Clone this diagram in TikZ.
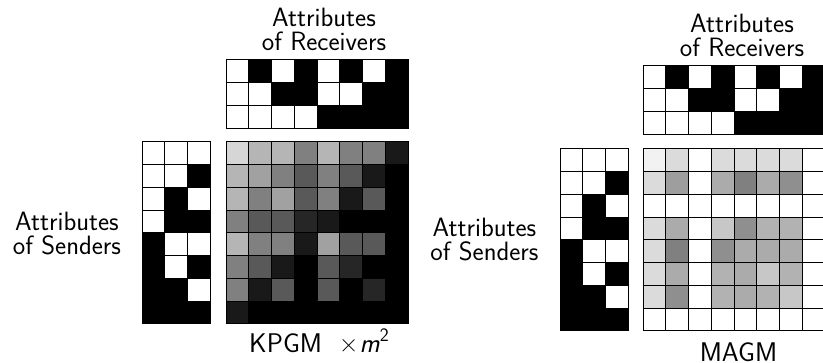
\documentclass[tikz,border=0pt]{standalone}
\usepackage{fontspec}
\usepackage{tikz}
\tikzset{
  cellbox/.style={draw=black, line width=1pt},
  lbl/.style={font=\fontsize{26.5}{24}\selectfont\sffamily, inner sep=0pt, anchor=base, align=center},
  biglbl/.style={font=\fontsize{27}{30}\selectfont\sffamily, inner sep=0pt, anchor=base},
}
\newcommand\cellmatrix[3]{%
  \foreach \rowvals [count=\ri] in {#3} {
    \foreach \v [count=\ci] in \rowvals {
      \filldraw[cellbox, fill=white!\v!black] ({#1+(\ci-1)*22.75},{#2+(\ri-1)*22.75}) rectangle ++(22.75,22.75);
    }
  }
}
\begin{document}
\begin{tikzpicture}[x=1pt,y=-1pt]
\useasboundingbox (0,0) rectangle (823,363);
% ---------- left: KPGM ----------
\cellmatrix{226}{60}{{100,0,100,0,100,0,100,0},{100,100,0,0,100,100,0,0},{100,100,100,100,0,0,0,0}}
\cellmatrix{142}{142}{{100,100,100},{100,100,0},{100,0,100},{100,0,0},{0,100,100},{0,100,0},{0,0,100},{0,0,0}}
\cellmatrix{226}{142}{%
{84,71,71,50,71,50,50,10},
{71,63,50,35,50,35,10,0},
{71,50,63,35,50,10,35,0},
{50,35,35,15,10,0,0,0},
{71,50,50,10,63,35,35,0},
{50,35,10,0,35,15,0,0},
{50,10,35,0,35,0,15,0},
{10,0,0,0,0,0,0,0}}
\node[lbl] (recvL) at (324,50.5) {Attributes\\of Receivers};
\node[lbl] (sendL) at (67,254.5) {Attributes\\of Senders};
\node[biglbl] (kpgm) at (319,353) {KPGM\ \ ×\kern1pt\textit{m}\raisebox{0.42em}{\fontsize{19}{20}\selectfont 2}};
% ---------- right: MAGM ----------
\cellmatrix{643}{66}{{100,0,100,0,100,0,100,0},{100,100,0,0,100,100,0,0},{100,100,100,100,0,0,0,0}}
\cellmatrix{560}{149}{{100,100,100},{100,100,0},{100,0,100},{100,0,0},{0,100,100},{0,100,0},{0,0,100},{0,0,0}}
\cellmatrix{643}{149}{%
{95,86,100,86,86,86,86,100},
{86,62,100,67,50,67,56,100},
{100,100,100,100,100,100,100,100},
{86,67,100,78,56,70,70,100},
{86,50,100,56,67,67,67,100},
{86,67,100,70,67,78,70,100},
{86,56,100,70,67,70,78,100},
{100,100,100,100,100,100,100,100}}
\node[lbl] (recvR) at (742,57) {Attributes\\of Receivers};
\node[lbl] (sendR) at (484.5,260.5) {Attributes\\of Senders};
\node[biglbl] (magm) at (738.5,361.5) {MAGM};
\end{tikzpicture}
\end{document}
